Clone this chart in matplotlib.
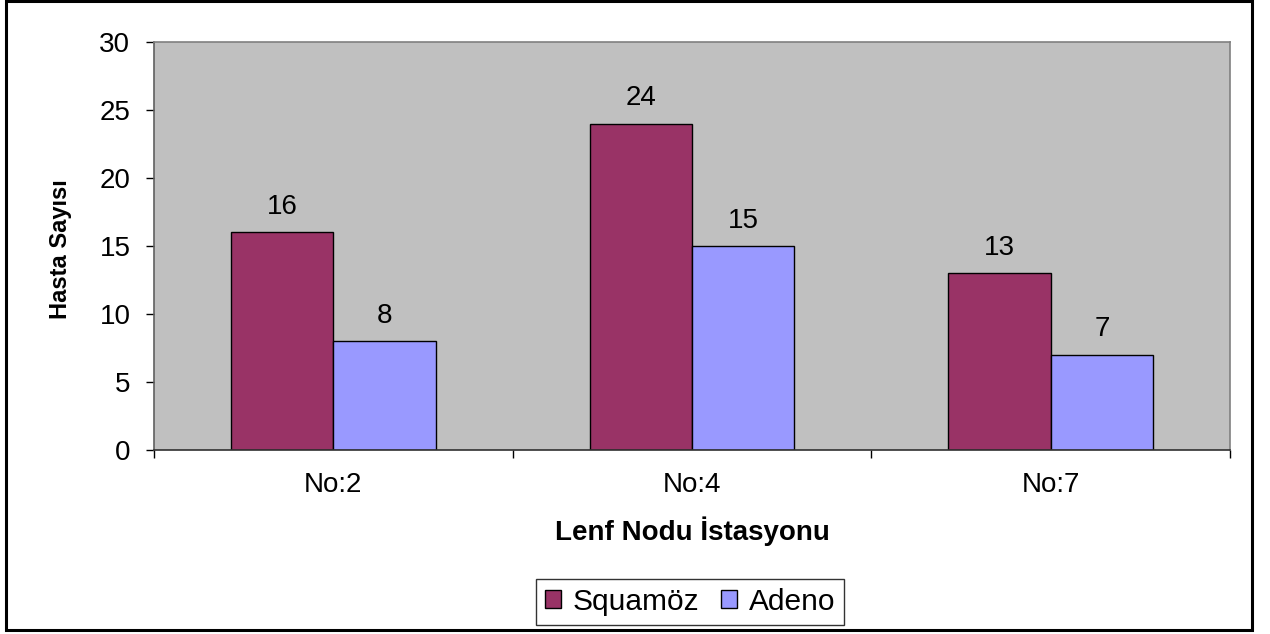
import matplotlib
matplotlib.use("Agg")
import matplotlib.pyplot as plt
import numpy as np
from matplotlib.patches import Rectangle

categories = ["No:2", "No:4", "No:7"]
squamoz = [16, 24, 13]
adeno = [8, 15, 7]
series_names = ["Squamöz", "Adeno"]
yticks = [0, 5, 10, 15, 20, 25, 30]

plt.rcParams['font.family'] = ['Liberation Sans', 'DejaVu Sans']

fig = plt.figure(figsize=(12.7, 6.34), dpi=100)
ax = fig.add_axes([154/1270, 1-450/634, (1230-154)/1270, (450-42)/634])
ax.set_facecolor('#C0C0C0')

x = np.arange(len(categories))
w = 1/3.5
b1 = ax.bar(x - w/2, squamoz, w, color='#993366', edgecolor='black', linewidth=1.0, label=series_names[0])
b2 = ax.bar(x + w/2, adeno, w, color='#9999FF', edgecolor='black', linewidth=1.0, label=series_names[1])
ax.bar_label(b1, padding=9, fontsize=20)
ax.bar_label(b2, padding=9, fontsize=20)

ax.set_xlim(-0.5, len(categories) - 0.5)
ax.set_ylim(0, 30)
ax.set_yticks(yticks)
ax.set_xticks(x)
ax.set_xticklabels(categories, fontsize=20)
ax.set_xticks(np.arange(len(categories) + 1) - 0.5, minor=True)
ax.tick_params(axis='x', which='major', length=0, pad=16)
ax.tick_params(axis='x', which='minor', length=6, width=1, color='black', direction='out')
ax.tick_params(axis='y', length=6, width=1, color='black', direction='out', pad=11, labelsize=20)

for s in ['top', 'right']:
    ax.spines[s].set_color('#808080')
    ax.spines[s].set_linewidth(1.2)
ax.spines['left'].set_color('#606060')
ax.spines['bottom'].set_color('#303030')
ax.spines['left'].set_linewidth(1.2)
ax.spines['bottom'].set_linewidth(1.2)

fig.text(60/1270, 1-249/634, "Hasta Sayısı", rotation=90, ha='center', va='center',
         fontsize=17, fontweight='bold')
fig.text(692/1270, 1-531/634, "Lenf Nodu İstasyonu", ha='center', va='center',
         fontsize=20, fontweight='bold')

leg = fig.legend(handles=[b1, b2], labels=series_names, loc='center',
                 bbox_to_anchor=(690/1270, 1-602/634), ncol=2, fontsize=21.5,
                 frameon=True, fancybox=False, edgecolor='black', handlelength=0.55,
                 handleheight=0.55, handletextpad=0.4, columnspacing=0.7,
                 borderpad=0.3, borderaxespad=0)
leg.get_frame().set_linewidth(1.0)

fig.patches.append(Rectangle((6/1270, 1-630/634), (1252-6)/1270, (630-1)/634,
                             transform=fig.transFigure, fill=False,
                             edgecolor='black', linewidth=2.2))

fig.savefig('out.png', dpi=100)
